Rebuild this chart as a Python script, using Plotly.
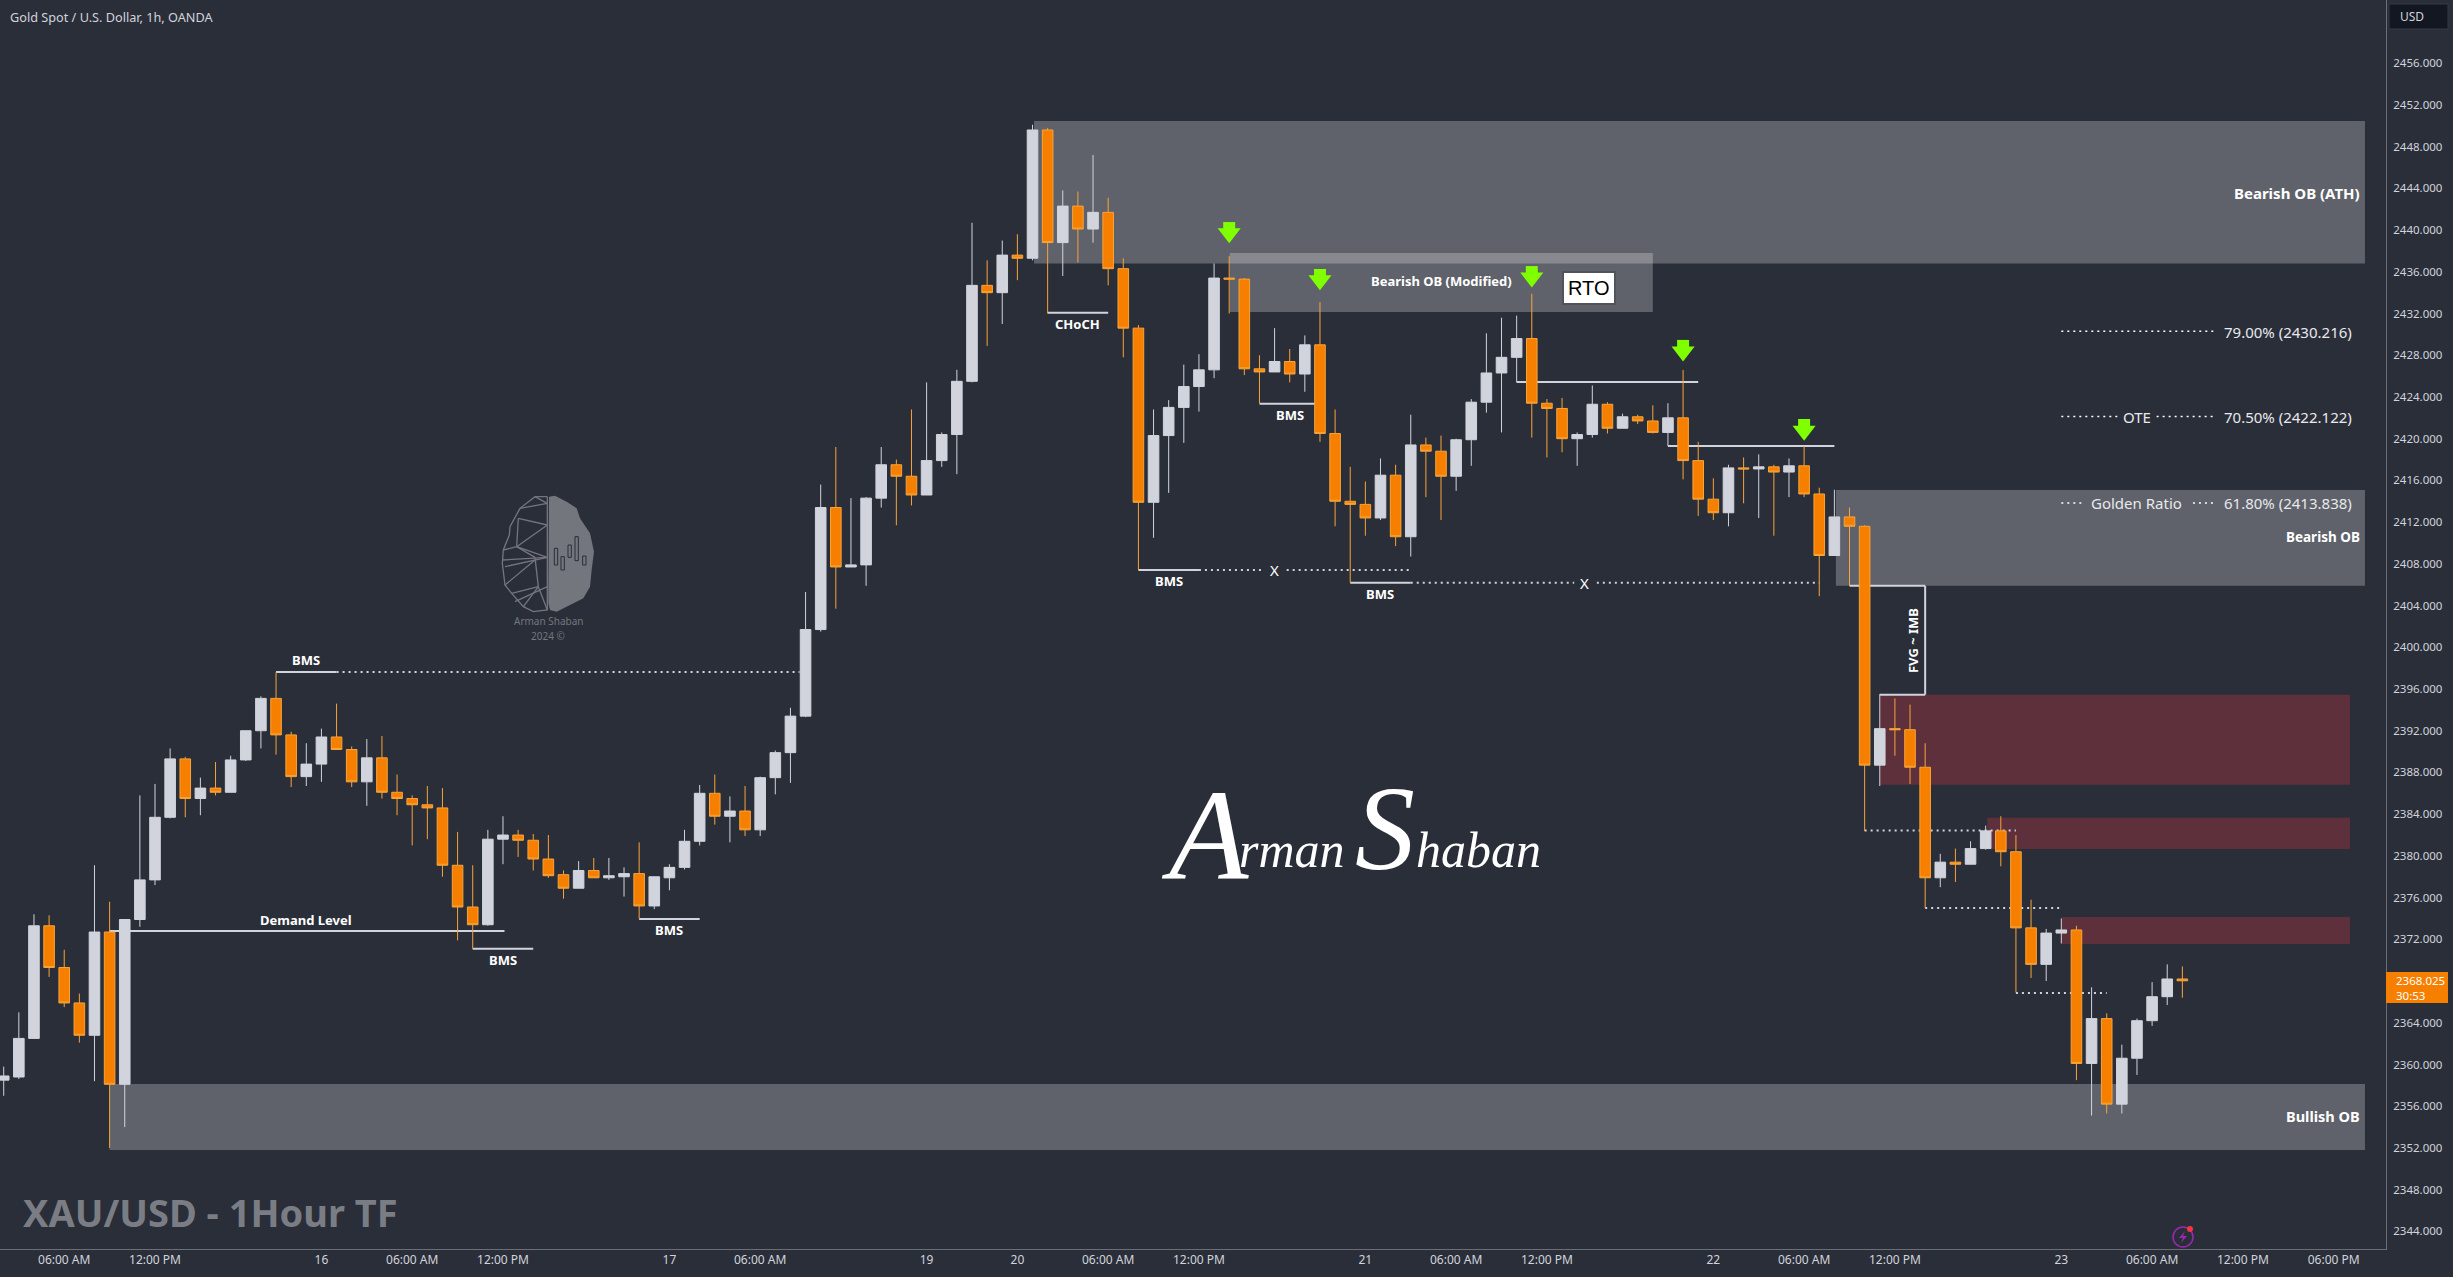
import plotly.graph_objects as go

opens = [2358.5,2358.8,2362.5,2373.3,2369.3,2365.9,2362.8,2372.7,2358.1,2373.9,
2377.7,2383.7,2389.3,2385.5,2386.5,2386.1,2389.2,2392.0,2395.1,2391.6,
2387.6,2388.8,2391.4,2390.2,2387.1,2389.4,2386.1,2385.5,2384.9,2384.6,
2379.1,2375.1,2373.4,2381.6,2382.0,2381.5,2379.7,2378.2,2376.9,2378.6,
2377.9,2378.0,2378.3,2375.2,2377.9,2378.9,2381.4,2386.0,2383.8,2384.3,
2382.5,2387.5,2389.9,2393.4,2401.7,2413.4,2407.7,2407.9,2414.3,2417.5,
2416.4,2414.6,2417.9,2420.4,2425.5,2434.7,2434.0,2437.6,2437.3,2449.6,
2438.8,2442.3,2440.1,2441.7,2436.3,2430.6,2413.9,2420.3,2423.0,2425.0,
2426.6,2435.4,2435.3,2426.7,2426.4,2427.4,2426.2,2429.0,2420.5,2414.0,
2413.7,2412.4,2416.5,2410.6,2419.4,2418.8,2416.4,2419.9,2423.5,2426.3,
2427.8,2429.6,2423.4,2422.9,2420.0,2420.4,2423.3,2421.0,2422.1,2421.7,
2420.6,2422.0,2417.9,2414.2,2412.9,2417.2,2417.1,2417.3,2416.8,2417.4,
2414.7,2408.8,2412.5,2411.6,2388.7,2392.2,2392.1,2388.5,2377.9,2379.4,
2379.2,2380.7,2382.4,2380.4,2373.1,2369.6,2372.6,2372.9,2360.1,2364.4,
2356.2,2360.6,2364.2,2366.5,2368.2]
closes = [2358.9,2362.5,2373.3,2369.3,2365.9,2362.8,2372.7,2358.1,2373.9,2377.7,
2383.7,2389.3,2385.5,2386.5,2386.1,2389.2,2392.0,2395.1,2391.6,2387.6,
2388.8,2391.4,2390.2,2387.1,2389.4,2386.1,2385.5,2384.9,2384.6,2379.1,
2375.1,2373.4,2381.6,2382.0,2381.5,2379.7,2378.1,2376.9,2378.6,2377.9,
2378.1,2378.3,2375.2,2378.0,2378.9,2381.4,2386.0,2383.8,2384.3,2382.5,
2387.5,2389.9,2393.4,2401.7,2413.4,2407.7,2407.9,2414.3,2417.5,2416.4,
2414.6,2417.9,2420.4,2425.5,2434.7,2434.0,2437.6,2437.3,2449.6,2438.8,
2442.3,2440.1,2441.7,2436.3,2430.6,2413.9,2420.3,2423.0,2425.0,2426.6,
2435.4,2435.3,2426.7,2426.4,2427.4,2426.2,2429.0,2420.5,2414.0,2413.7,
2412.4,2416.5,2410.6,2419.4,2418.8,2416.4,2419.9,2423.5,2426.3,2427.8,
2429.6,2423.4,2422.9,2420.0,2420.4,2423.3,2421.0,2422.1,2421.7,2420.6,
2422.0,2417.9,2414.2,2412.9,2417.2,2417.1,2417.3,2416.8,2417.4,2414.7,
2408.8,2412.5,2411.6,2388.7,2392.2,2392.1,2388.5,2377.9,2379.4,2379.2,
2380.7,2382.4,2380.4,2373.1,2369.6,2372.6,2372.9,2360.1,2364.4,2356.2,
2360.6,2364.2,2366.5,2368.2,2368.025]
highs = [2359.8,2365.0,2374.4,2374.3,2371.0,2366.8,2379.1,2375.6,2373.9,2385.8,
2386.9,2390.3,2389.5,2387.5,2389.0,2389.6,2392.0,2395.3,2397.6,2391.9,
2390.8,2392.2,2394.6,2390.5,2391.2,2391.5,2387.8,2385.8,2386.7,2386.5,
2382.3,2379.1,2382.5,2383.8,2382.5,2382.1,2382.0,2378.6,2379.5,2379.8,
2379.8,2378.9,2381.3,2378.0,2379.2,2382.5,2386.8,2387.8,2385.7,2386.7,
2387.6,2390.1,2394.2,2405.3,2415.6,2419.2,2414.3,2414.4,2419.2,2418.0,
2422.8,2425.4,2420.6,2426.6,2440.7,2437.1,2439.0,2439.6,2450.1,2449.8,
2443.8,2443.7,2447.2,2443.1,2437.3,2430.9,2422.8,2423.7,2427.1,2428.1,
2436.8,2437.5,2435.4,2428.0,2430.6,2428.6,2429.9,2433.1,2422.8,2417.3,
2415.9,2418.1,2417.5,2422.3,2420.1,2420.3,2420.0,2423.8,2430.1,2431.6,
2431.8,2433.9,2423.8,2423.9,2420.6,2425.1,2423.5,2422.4,2422.3,2423.2,
2423.4,2426.6,2419.7,2416.2,2417.5,2418.2,2418.5,2417.5,2418.1,2419.3,
2415.3,2415.1,2413.4,2411.7,2395.5,2395.1,2394.5,2390.8,2380.2,2380.7,
2381.4,2382.9,2383.8,2382.0,2375.8,2373.0,2374.0,2373.3,2367.4,2364.9,
2361.9,2364.4,2367.9,2369.6,2369.4]
lows = [2357.0,2358.6,2362.5,2368.4,2365.5,2362.1,2358.4,2352.0,2354.0,2373.2,
2377.2,2383.6,2383.7,2383.9,2385.8,2386.1,2389.1,2390.3,2389.7,2386.6,
2386.7,2387.1,2390.2,2386.6,2384.8,2385.5,2383.9,2381.0,2381.6,2378.0,
2371.9,2371.1,2373.3,2379.2,2379.9,2378.6,2377.9,2375.9,2376.9,2377.9,
2377.7,2376.1,2374.0,2374.9,2376.7,2378.7,2381.0,2383.0,2381.3,2381.9,
2381.9,2385.9,2387.0,2393.3,2401.5,2403.7,2407.7,2405.9,2413.4,2411.7,
2413.6,2414.6,2417.3,2416.6,2425.4,2428.9,2431.0,2435.2,2437.1,2432.0,
2435.6,2436.9,2438.8,2434.7,2427.8,2407.4,2410.5,2414.8,2419.6,2422.6,
2425.8,2432.0,2426.1,2423.4,2426.4,2425.4,2424.5,2419.7,2411.6,2406.2,
2410.7,2412.2,2409.7,2408.7,2414.4,2412.2,2415.0,2417.4,2422.5,2420.6,
2425.4,2420.1,2418.2,2418.7,2417.4,2420.1,2420.5,2421.0,2421.4,2420.5,
2419.3,2416.1,2412.6,2412.2,2411.6,2413.8,2412.4,2410.7,2414.4,2414.4,
2404.9,2408.8,2405.9,2382.4,2386.7,2389.6,2386.9,2375.0,2377.0,2377.5,
2379.2,2380.6,2379.0,2366.9,2368.3,2368.0,2371.6,2358.5,2355.1,2355.3,
2355.3,2359.0,2363.7,2365.7,2366.4]

x_tick_index = [4,10,21,27,33,44,50,61,67,73,79,90,96,102,113,119,125,136,142,148,154]
x_tick_text = ["06:00 AM","12:00 PM","16","06:00 AM","12:00 PM","17","06:00 AM","19","20",
               "06:00 AM","12:00 PM","21","06:00 AM","12:00 PM","22","06:00 AM","12:00 PM",
               "23","06:00 AM","12:00 PM","06:00 PM"]
y_ticks = [2344,2348,2352,2356,2360,2364,2372,2376,2380,2384,2388,2392,2396,2400,2404,2408,
           2412,2416,2420,2424,2428,2432,2436,2440,2444,2448,2452,2456]

# zones: start bar, end bar, top price, bottom price
grey_zones = [(68.1,156.07,2450.46,2436.8),(81.04,109.0,2437.81,2432.15),
              (121.1,156.07,2415.08,2405.89),(7,156.07,2358.12,2351.8)]
red_zones = [(124,155.08,2395.46,2386.81),(131.1,155.08,2383.65,2380.66),(136,155.08,2374.13,2371.55)]

# structure lines: start bar, end bar, price
solid_lines = [(7,33.1,2372.8),(18,22,2397.63),(31,35,2371.1),(42,46,2373.96),(69,73,2432.08),
               (75,79,2407.41),(89,93,2406.19),(83,87,2423.36),(100,112,2425.44),(110,121,2419.3)]
dotted_lines = [(22,52.6,2397.63),(79,83.2,2407.41),(84.8,93,2407.41),(93,103.8,2406.19),(105.3,120,2406.19),
                (123,133,2382.44),(127,136,2375.0),(133,139,2366.85)]
fib_lines = [(136,146.1,2430.29),(136,139.7,2422.12),(142.3,146.1,2422.12),(136,137.4,2413.84),(144.7,146.1,2413.84)]
fvg_box_bars = [122,127,127,124]
fvg_box_prices = [2405.89,2405.89,2395.46,2395.46]

# arrows: bar, shaft top price, head centre price
arrow_bars = [81,87,101,111,119]
arrow_tops = [2440.77,2436.27,2436.55,2429.47,2421.89]
arrow_heads = [2439.7,2435.2,2435.45,2428.35,2420.77]

# bold chart labels: text, bar, price
labels = [("Demand Level",20,2373.9),("BMS",20,2398.77),("BMS",33,2370.0),("BMS",44,2372.9),
          ("CHoCH",71,2430.96),("BMS",77,2406.35),("BMS",91,2405.08),("BMS",85,2422.27),
          ("Bearish OB (Modified)",95,2435.09)]
cross_labels = [("X",84,2407.41),("X",104.5,2406.19)]
right_labels = [("Bearish OB (ATH)",155.85,2443.56),("Bearish OB",155.85,2410.6),("Bullish OB",155.85,2355.04)]
fib_labels = [("79.00% (2430.216)",151.0,2430.22),("70.50% (2422.122)",151.0,2422.12),
              ("61.80% (2413.838)",151.0,2413.84),("OTE",141,2422.12),("Golden Ratio",141,2413.84)]

BG = "#2a2e39"; WHITE = "#d1d4dc"; ORANGE = "#f77f00"; WICK = "#f7a43a"
W, H, PW, PH = 2453, 1277, 2386, 1249
fx = lambda p: p / PW
fy = lambda p: 1 - p / PH
FONT = "Noto Sans"

fig = go.Figure()
fig.add_trace(go.Candlestick(
    x=list(range(len(opens))), open=opens, high=highs, low=lows, close=closes,
    increasing=dict(line=dict(color=WHITE, width=1), fillcolor=WHITE),
    decreasing=dict(line=dict(color=WICK, width=1), fillcolor=ORANGE),
    whiskerwidth=0, showlegend=False, hoverinfo="skip"))

shaft_x, shaft_y = [], []
for b, t, h in zip(arrow_bars, arrow_tops, arrow_heads):
    shaft_x += [b, b, None]; shaft_y += [t, h, None]
fig.add_trace(go.Scatter(x=shaft_x, y=shaft_y, mode="lines", line=dict(color="#7fff00", width=12),
                         showlegend=False, hoverinfo="skip"))
fig.add_trace(go.Scatter(x=arrow_bars, y=arrow_heads, mode="markers",
                         marker=dict(symbol="triangle-down", size=20, color="#7fff00", line=dict(width=0)),
                         showlegend=False, hoverinfo="skip"))

shapes = []
for x0, x1, y1, y0 in grey_zones:
    shapes.append(dict(type="rect", xref="x", yref="y", x0=x0, x1=x1, y0=y0, y1=y1, layer="below",
                       line=dict(width=0), fillcolor="rgba(255,255,255,0.25)"))
for x0, x1, y1, y0 in red_zones:
    shapes.append(dict(type="rect", xref="x", yref="y", x0=x0, x1=x1, y0=y0, y1=y1, layer="below",
                       line=dict(width=0), fillcolor="#5d303b"))
for x0, x1, y in solid_lines:
    shapes.append(dict(type="line", xref="x", yref="y", x0=x0, x1=x1, y0=y, y1=y, layer="below",
                       line=dict(color=WHITE, width=2)))
for x0, x1, y in dotted_lines:
    shapes.append(dict(type="line", xref="x", yref="y", x0=x0, x1=x1, y0=y, y1=y, layer="below",
                       line=dict(color=WHITE, width=2, dash="2px,4px")))
for x0, x1, y in fib_lines:
    shapes.append(dict(type="line", xref="x", yref="y", x0=x0, x1=x1, y0=y, y1=y, layer="below",
                       line=dict(color="#ffffff", width=1.5, dash="2px,4px")))
for i in range(3):
    shapes.append(dict(type="line", xref="x", yref="y", x0=fvg_box_bars[i], x1=fvg_box_bars[i+1],
                       y0=fvg_box_prices[i], y1=fvg_box_prices[i+1], layer="below",
                       line=dict(color=WHITE, width=2)))

# price tag and USD box (axis furniture)
shapes.append(dict(type="rect", xref="paper", yref="paper", x0=fx(2386), x1=fx(2448), y0=fy(1003), y1=fy(972),
                   fillcolor=ORANGE, line=dict(width=0)))
shapes.append(dict(type="rect", xref="paper", yref="paper", x0=fx(2389), x1=fx(2448), y0=fy(29), y1=fy(4),
                   fillcolor="#131722", line=dict(color="#363a45", width=1)))

# brain logo
def P(pts):
    return "M" + " L".join(f"{fx(470+a/3):.5f},{fy(470+b/3):.5f}" for a, b in pts)
GREY = "#74767e"
blob = [(237,80),(255,77),(290,95),(320,115),(330,145),(360,190),(372,245),(365,300),(360,350),
        (340,385),(300,405),(260,425),(240,420),(235,400)]
shapes.append(dict(type="path", xref="paper", yref="paper", path=P(blob)+" Z", fillcolor=GREY, line=dict(width=0)))
wire = [[(232,80),(195,80),(150,115),(120,170),(118,195),(100,240),(97,280),(105,345),(125,370),(160,410),(190,425),(232,420),(232,80)],
        [(232,100),(195,80)],[(150,115),(232,100)],[(145,145),(232,165)],[(145,145),(140,230)],[(232,165),(140,230)],
        [(140,230),(232,262)],[(100,240),(140,230)],[(97,270),(232,262)],[(105,290),(232,262)],[(140,230),(195,262)],
        [(195,262),(205,350)],[(105,345),(195,270)],[(125,370),(205,350)],[(205,350),(232,420)],[(205,350),(160,410)],[(135,395),(232,350)]]
for seg in wire:
    shapes.append(dict(type="path", xref="paper", yref="paper", path=P(seg), line=dict(color=GREY, width=1.3)))
for a, t, b in [(258,235,285),(278,260,300),(299,225,262),(320,200,272),(343,258,285)]:
    shapes.append(dict(type="path", xref="paper", yref="paper", line=dict(color=BG, width=1),
                       path=P([(a-5,t),(a+5,t),(a+5,b),(a-5,b)])+" Z"))

# small alert badge
shapes.append(dict(type="circle", xref="paper", yref="paper", x0=fx(2173), x1=fx(2193), y0=fy(1247), y1=fy(1227),
                   line=dict(color="#9c27b0", width=1.5)))
shapes.append(dict(type="circle", xref="paper", yref="paper", x0=fx(2187), x1=fx(2193), y0=fy(1232), y1=fy(1226),
                   fillcolor="#f23645", line=dict(width=0)))
bolt = [(2185,1231),(2179,1238),(2183,1238),(2181,1243),(2187,1236),(2183,1236)]
shapes.append(dict(type="path", xref="paper", yref="paper", fillcolor="#9c27b0", line=dict(width=0),
                   path="M" + " L".join(f"{fx(a):.5f},{fy(b):.5f}" for a, b in bolt) + " Z"))

def note(text, x, y, size=12, color="#ffffff", bold=False, xref="x", yref="y", anchor="center", font=FONT, **kw):
    fig.add_annotation(text=f"<b>{text}</b>" if bold else text, x=x, y=y, xref=xref, yref=yref, showarrow=False,
                       xanchor=anchor, yanchor="middle", font=dict(family=font, size=size, color=color), **kw)

for t, x, y in labels:
    note(t, x, y, bold=True, size=13)
for t, x, y in cross_labels:
    note(t, x, y, size=15)
for t, x, y in right_labels:
    note(t, x, y, bold=True, size=15 if "ATH" in t else (14.5 if "Bullish" in t else 13.5), anchor="right")
for t, x, y in fib_labels:
    note(t, x, y, size=15, color="#e8e9ec")
note("FVG ~ IMB", 126.24, 2400.66, bold=True, size=13, textangle=-90)
note("RTO", 104.8, 2434.42, size=20, color="#000000", font="Liberation Sans", bgcolor="#ffffff",
     bordercolor="#50535c", borderwidth=2, borderpad=4)

note("Gold Spot / U.S. Dollar, 1h, OANDA", fx(8), fy(17), size=12.7, color=WHITE, xref="paper", yref="paper", anchor="left")
note("<b>XAU/USD - 1Hour TF</b>", fx(21), fy(1212), size=38, color="#7b7d85", xref="paper", yref="paper", anchor="left")
note("USD", fx(2398), fy(16.5), size=12, color=WHITE, xref="paper", yref="paper", anchor="left")
note("2368.025", fx(2394), fy(980), size=11.5, color="#ffffff", xref="paper", yref="paper", anchor="left")
note("30:53", fx(2394), fy(995), size=11.5, color="#ffffff", xref="paper", yref="paper", anchor="left")
note("Arman Shaban", fx(548), fy(621), size=10, color=GREY, xref="paper", yref="paper")
note("2024 ©", fx(548), fy(636), size=10, color=GREY, xref="paper", yref="paper")

SIG = "Liberation Serif"
for t, px, py, s in [("A",1205,835,130),("rman",1292,850,50),("S",1385,828,120),("haban",1478,850,50)]:
    note(f"<i>{t}</i>", fx(px), fy(py), size=s, color="#ffffff", xref="paper", yref="paper", font=SIG)

fig.update_layout(
    width=W, height=H, autosize=False, margin=dict(l=0, r=W-PW, t=0, b=H-PH),
    paper_bgcolor=BG, plot_bgcolor=BG, showlegend=False, shapes=shapes,
    boxgap=0.3, boxgroupgap=0,
    xaxis=dict(range=[-0.245, 157.46], rangeslider=dict(visible=False), tickmode="array",
               tickvals=x_tick_index, ticktext=x_tick_text, showgrid=False, zeroline=False,
               showline=True, linecolor="#6c6f78", linewidth=1, ticks="",
               tickfont=dict(family=FONT, size=12, color=WHITE)),
    yaxis=dict(range=[2342.31, 2462.06], side="right", tickmode="array", tickvals=y_ticks,
               ticktext=[f"{v:.3f}" for v in y_ticks], showgrid=False, zeroline=False, showline=True,
               linecolor="#6c6f78", linewidth=1, ticks="", ticklabelstandoff=4,
               tickfont=dict(family=FONT, size=11.5, color=WHITE)),
)
fig.write_html("out.html", config={"displayModeBar": False},
               post_script="document.body.style.margin='0';document.body.style.background='#2a2e39';")
